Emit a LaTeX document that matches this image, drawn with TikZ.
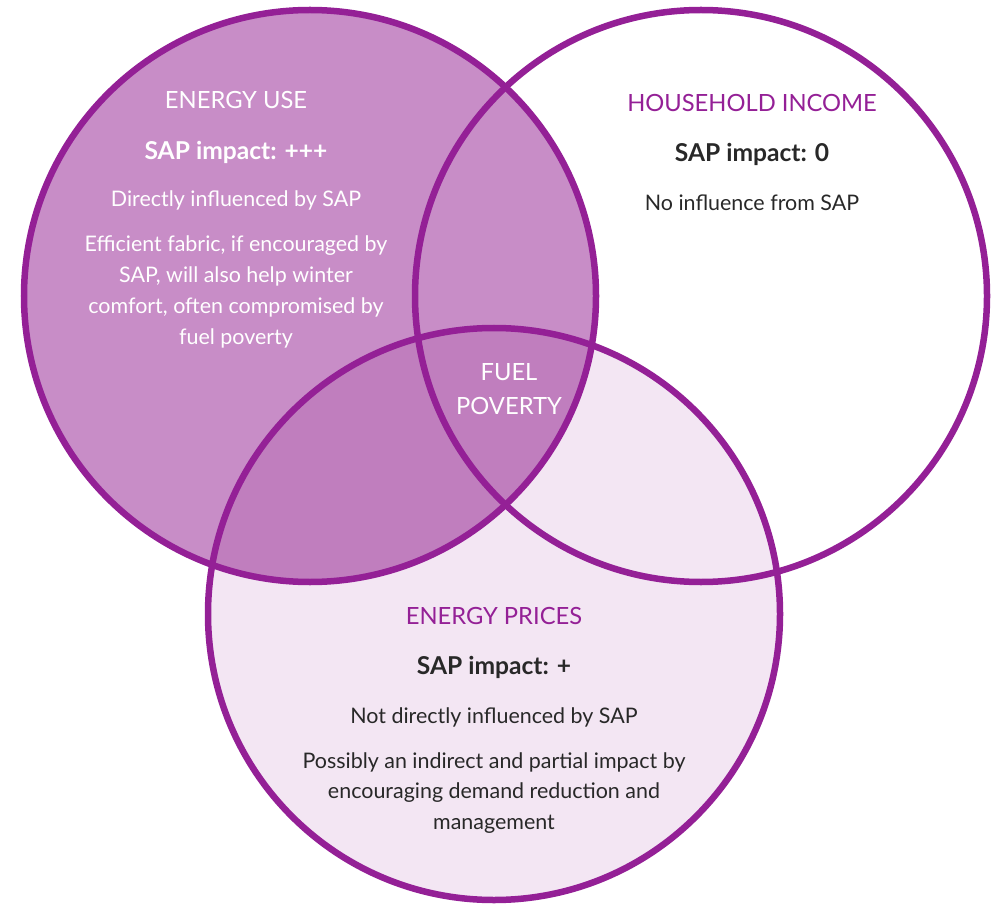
\documentclass[tikz,border=0pt]{standalone}
\usepackage{fontspec}
\setmainfont{Lato}
\begin{document}
\begin{tikzpicture}[x=0.2mm, y=0.2mm, line cap=round, line join=round,
    head/.style={font=\fontsize{13.5}{16}\selectfont},
    impact/.style={font=\fontsize{14}{16}\selectfont\bfseries},
    body/.style={font=\fontsize{12.2}{17.6}\selectfont, align=center}]
  \definecolor{vennpurple}{RGB}{148,32,150}
  \definecolor{usefill}{RGB}{200,141,199}
  \definecolor{overlapfill}{RGB}{192,126,190}
  \definecolor{pricefill}{RGB}{243,230,243}
  \definecolor{darktext}{RGB}{40,40,40}
  \useasboundingbox (0,0) rectangle (1000,904);
  % fills
  \fill[pricefill] (494,290) circle (286);
  \fill[usefill] (310,608) circle (286);
  \begin{scope}
    \clip (310,608) circle (286);
    \fill[overlapfill] (494,290) circle (286);
  \end{scope}
  % outlines
  \draw[vennpurple, line width=3.7pt] (310,608) circle (286);
  \draw[vennpurple, line width=3.7pt] (701,608) circle (286);
  \draw[vennpurple, line width=3.7pt] (494,290) circle (286);
  % energy use
  \node[head, white] (usehead) at (236,804) {ENERGY USE};
  \node[impact, white] (useimpact) at (236,752) {SAP impact: +++};
  \node[body, white] (usedirect) at (236,704) {Directly influenced by SAP};
  \node[body, white] (usenote) at (236,612) {Efficient fabric, if encouraged by\\SAP, will also help winter\\comfort, often compromised by\\fuel poverty};
  % household income
  \node[head, vennpurple] (incomehead) at (752,801) {HOUSEHOLD INCOME};
  \node[impact, darktext] (incomeimpact) at (752,750) {SAP impact: 0};
  \node[body, darktext] (incomenote) at (752,701) {No influence from SAP};
  % fuel poverty
  \node[head, white, align=center, font=\fontsize{13.5}{19}\selectfont] (fuelpov) at (509,515) {FUEL\\POVERTY};
  % energy prices
  \node[head, vennpurple] (pricehead) at (494,288) {ENERGY PRICES};
  \node[impact, darktext] (priceimpact) at (494,237) {SAP impact: +};
  \node[body, darktext] (pricedirect) at (494,187) {Not directly influenced by SAP};
  \node[body, darktext] (pricenote) at (494,111) {Possibly an indirect and partial impact by\\encouraging demand reduction and\\management};
\end{tikzpicture}
\end{document}
